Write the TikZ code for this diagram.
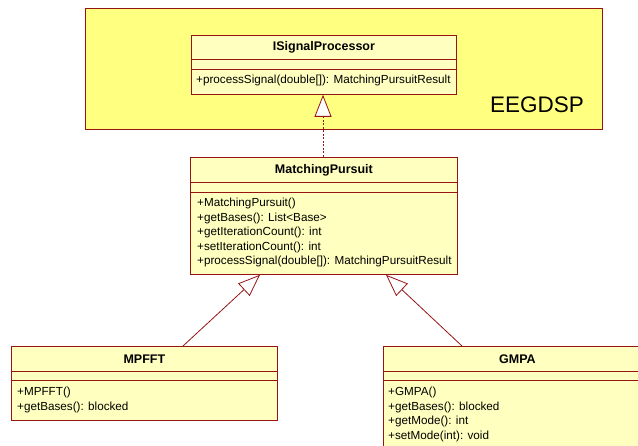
\documentclass[tikz,border=0pt]{standalone}
\usepackage{fontspec}
\setmainfont{Liberation Sans}
\usetikzlibrary{arrows.meta,positioning}

\definecolor{umlred}{RGB}{150,20,20}
\definecolor{pkgyellow}{RGB}{255,255,128}
\definecolor{classyellow}{RGB}{255,255,192}

\tikzset{
  classbox/.style={draw=umlred,fill=classyellow,anchor=north west,inner sep=0pt,line width=0.8pt},
  classname/.style={font=\fontsize{12.5}{14}\selectfont\bfseries,inner sep=0pt},
  classops/.style={font=\fontsize{11.7}{14.5}\selectfont,align=left,anchor=north west,inner sep=0pt},
  compartment/.style={draw=umlred,line width=0.8pt},
  realizes/.style={draw=umlred,line width=0.8pt,dash pattern=on 2pt off 1.5pt,
                   -{Triangle[length=22pt,width=17pt,fill=white]}},
  extends/.style={draw=umlred,line width=0.8pt,
                  -{Triangle[length=22pt,width=17pt,fill=white]}}
}

\begin{document}
\begin{tikzpicture}[x=1pt,y=-1pt]
  \clip (0,0) rectangle (638,446);

  % package EEGDSP
  \draw[draw=umlred,fill=pkgyellow,line width=0.8pt] (85,8) rectangle (602,129);
  \node[font=\fontsize{22.5}{22.5}\selectfont,anchor=base west,inner sep=0pt] (pkgname) at (490,113) {EEGDSP};

  % interface
  \node[classbox,minimum width=265pt,minimum height=59pt] (isig) at (191,35) {};
  \node[classname] (isig-name) at ([yshift=-12pt]isig.north) {ISignalProcessor};
  \draw[compartment] ([yshift=-24pt]isig.north west) -- ([yshift=-24pt]isig.north east);
  \draw[compartment] ([yshift=-34pt]isig.north west) -- ([yshift=-34pt]isig.north east);
  \node[classops] (isig-ops) at ([xshift=5pt,yshift=-40pt]isig.north west)
    {+processSignal(double[]): MatchingPursuitResult};

  % base class
  \node[classbox,minimum width=267pt,minimum height=117pt] (mp) at (190,157) {};
  \node[classname] (mp-name) at ([yshift=-13pt]mp.north) {MatchingPursuit};
  \draw[compartment] ([yshift=-25pt]mp.north west) -- ([yshift=-25pt]mp.north east);
  \draw[compartment] ([yshift=-35pt]mp.north west) -- ([yshift=-35pt]mp.north east);
  \node[classops] (mp-ops) at ([xshift=7pt,yshift=-41pt]mp.north west)
    {+MatchingPursuit()\\
     +getBases(): List<Base>\\
     +getIterationCount(): int\\
     +setIterationCount(): int\\
     +processSignal(double[]): MatchingPursuitResult};

  % subclasses
  \node[classbox,minimum width=266pt,minimum height=74pt] (mpfft) at (11,346) {};
  \node[classname] (mpfft-name) at ([yshift=-13pt]mpfft.north) {MPFFT};
  \draw[compartment] ([yshift=-25pt]mpfft.north west) -- ([yshift=-25pt]mpfft.north east);
  \draw[compartment] ([yshift=-34pt]mpfft.north west) -- ([yshift=-34pt]mpfft.north east);
  \node[classops] (mpfft-ops) at ([xshift=6pt,yshift=-41pt]mpfft.north west)
    {+MPFFT()\\
     +getBases(): blocked};

  \node[classbox,minimum width=268pt,minimum height=110pt] (gmpa) at (383,346) {};
  \node[classname] (gmpa-name) at ([yshift=-13pt]gmpa.north) {GMPA};
  \draw[compartment] ([yshift=-25pt]gmpa.north west) -- ([yshift=-25pt]gmpa.north east);
  \draw[compartment] ([yshift=-34pt]gmpa.north west) -- ([yshift=-34pt]gmpa.north east);
  \node[classops] (gmpa-ops) at ([xshift=5pt,yshift=-41pt]gmpa.north west)
    {+GMPA()\\
     +getBases(): blocked\\
     +getMode(): int\\
     +setMode(int): void};

  % relations
  \draw[realizes] ([xshift=133pt]mp.north west) -- ([xshift=132pt]isig.south west);
  \draw[extends] ([xshift=172pt]mpfft.north west) -- ([xshift=70pt]mp.south west);
  \draw[extends] ([xshift=79pt]gmpa.north west) -- ([xshift=196pt]mp.south west);
\end{tikzpicture}
\end{document}
